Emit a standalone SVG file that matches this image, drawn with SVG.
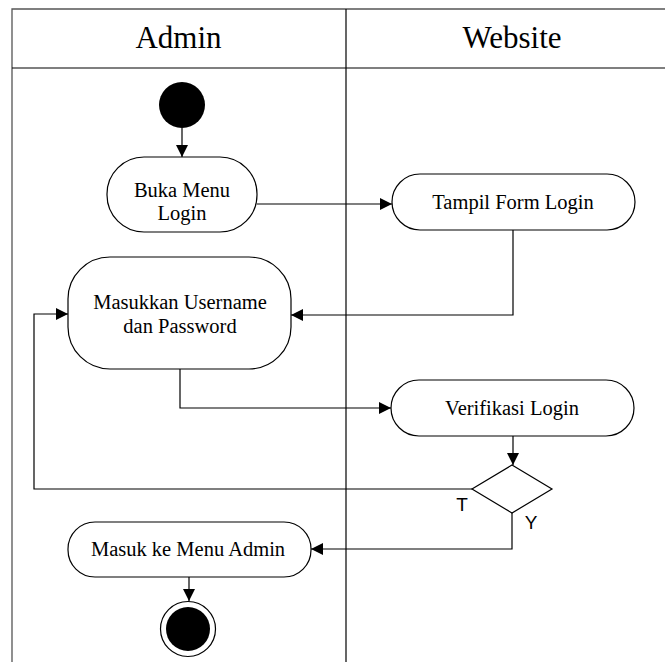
<svg xmlns="http://www.w3.org/2000/svg" width="665" height="662" viewBox="0 0 665 662">
<style>
.lane{stroke:#555;stroke-width:1.3;fill:none}
.lane2{stroke:#000;stroke-width:1.2;fill:none}
.act{fill:#fff;stroke:#000;stroke-width:1.2}
.t{font-family:"Liberation Serif","Times New Roman",serif;font-size:20.5px;fill:#000;text-anchor:middle}
.h{font-family:"Liberation Serif","Times New Roman",serif;font-size:31px;fill:#000;text-anchor:middle}
.s{font-family:"Liberation Sans",Arial,sans-serif;font-size:19px;fill:#000;text-anchor:middle}
.c{fill:none;stroke:#000;stroke-width:1.2}
</style>
<defs>
<marker id="ah" viewBox="0 0 12 12" refX="12" refY="6" markerWidth="12" markerHeight="12" markerUnits="userSpaceOnUse" orient="auto">
<path d="M0,0 L12,6 L0,12 Z" fill="#000"/>
</marker>
</defs>
<rect width="665" height="662" fill="#fff"/>
<g id="lanes">
<path class="lane" d="M12,662 V9 H665"/>
<path class="lane2" d="M346,9 V662"/>
<path class="lane2" d="M12,68 H665"/>
<text class="h" x="178.5" y="48">Admin</text>
<text class="h" x="512" y="48">Website</text>
</g>
<g id="connectors">
<path class="c" d="M182,128 V157" marker-end="url(#ah)"/>
<path class="c" d="M257,204 H392" marker-end="url(#ah)"/>
<path class="c" d="M513,230 V315 H291" marker-end="url(#ah)"/>
<path class="c" d="M180,369 V408 H391" marker-end="url(#ah)"/>
<path class="c" d="M513,436 V465" marker-end="url(#ah)"/>
<path class="c" d="M472,489 H34 V314 H68" marker-end="url(#ah)"/>
<path class="c" d="M512,513 V549 H311" marker-end="url(#ah)"/>
<path class="c" d="M189,577 V601" marker-end="url(#ah)"/>
<text class="s" x="462" y="511">T</text>
<text class="s" x="531" y="529">Y</text>
</g>
<g id="start">
<circle cx="182" cy="105" r="23" fill="#000"/>
</g>
<g id="buka-menu-login">
<rect class="act" x="107" y="157" width="150" height="75" rx="37" ry="37"/>
<text class="t" x="182" y="197">Buka Menu</text>
<text class="t" x="182" y="220">Login</text>
</g>
<g id="tampil-form-login">
<rect class="act" x="392" y="174" width="243" height="56" rx="28" ry="28"/>
<text class="t" x="513" y="209">Tampil Form Login</text>
</g>
<g id="masukkan-username">
<rect class="act" x="68" y="257" width="223" height="112" rx="42" ry="42"/>
<text class="t" x="180" y="309">Masukkan Username</text>
<text class="t" x="180" y="333">dan Password</text>
</g>
<g id="verifikasi-login">
<rect class="act" x="391" y="380" width="243" height="56" rx="28" ry="28"/>
<text class="t" x="512" y="415">Verifikasi Login</text>
</g>
<g id="decision">
<path class="act" d="M512,465 L552,489 L512,513 L472,489 Z"/>
</g>
<g id="masuk-menu-admin">
<rect class="act" x="68" y="522" width="243" height="55" rx="27" ry="27"/>
<text class="t" x="188" y="556">Masuk ke Menu Admin</text>
</g>
<g id="end">
<circle cx="188" cy="629" r="27.5" fill="#fff" stroke="#000" stroke-width="1.2"/>
<circle cx="188" cy="629" r="22" fill="#000"/>
</g>
</svg>
